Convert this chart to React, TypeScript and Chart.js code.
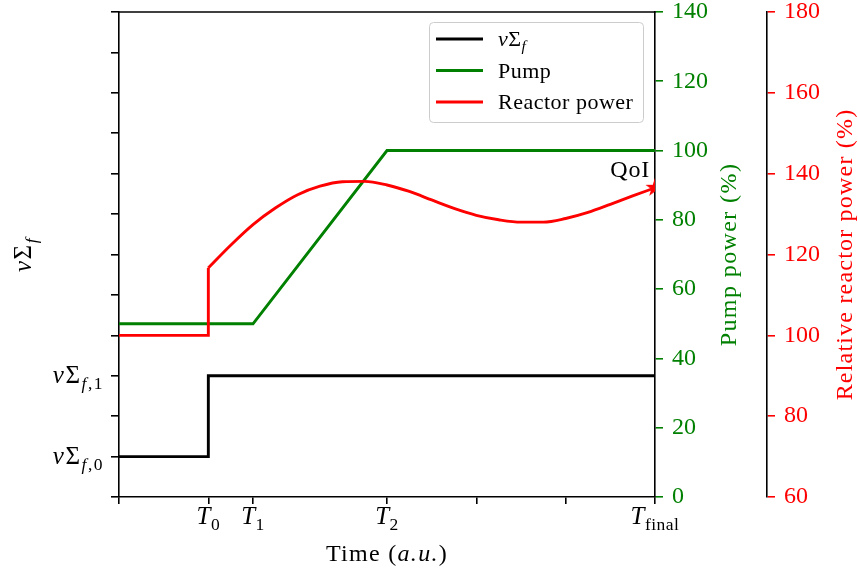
import React, { useEffect, useRef } from "react";
import { Chart, registerables } from "chart.js";

Chart.register(...registerables);

// ---- data -------------------------------------------------------------
// fission cross-section step (left axis, arbitrary units)
const timeSigma = [0, 2, 2, 12];
const sigmaLevels = [1, 1, 3, 3];

// pump power ramp (%)
const timePump = [0, 3, 6, 12];
const pumpPower = [50, 50, 100, 100];

// relative reactor power (%): flat start + jump at T0
const timeReactorStep = [0, 2, 2];
const reactorStep = [100, 100, 116.7];

// relative reactor power (%): smooth transient after T0
const timeReactor = [2, 2.5, 3, 3.5, 4, 4.5, 5, 5.5, 6, 6.5, 7, 7.5, 8, 8.5, 9, 9.5, 10, 10.5, 11, 11.5, 12];
const reactorPower = [
  116.7, 122.3, 127.4, 131.5, 134.8, 136.9, 138.0, 138.1, 137.2, 135.6, 133.5,
  131.4, 129.7, 128.6, 128.0, 128.0, 128.9, 130.4, 132.4, 134.5, 136.5,
];

// quantity of interest: reactor power at the final time
const qoiTime = [12];
const qoiValue = [136.5];

// axis ticks
const timeTicks = [0, 2, 3, 6, 8, 10, 12];
const namedTimes = [2, 3, 6, 12];
const namedTimeSubs = ["0", "1", "2", "final"];
const sigmaTickValues = [1, 3];
const sigmaTickSubs = ["0", "1"];

// ---- styling helpers ----------------------------------------------------
const SERIF = '"Liberation Serif", "DejaVu Serif", serif';
const GREEN = "#008000";
const RED = "#ff0000";
const BLACK = "#000000";
const LINE_W = 2.9;

type Run = { t: string; it?: boolean; sub?: boolean };

function runFont(r: Run, size: number) {
  const s = r.sub ? size * 0.7 : size;
  return `${r.it ? "italic " : ""}${s}px ${SERIF}`;
}

function drawRuns(
  ctx: CanvasRenderingContext2D,
  runs: Run[],
  x: number,
  y: number,
  size: number,
  align: "left" | "center" | "right",
  color: string,
  spacing = 0
) {
  const c = ctx as any;
  c.letterSpacing = `${spacing}px`;
  let w = 0;
  for (const r of runs) {
    ctx.font = runFont(r, size);
    w += ctx.measureText(r.t).width;
  }
  let cx = align === "left" ? x : align === "center" ? x - w / 2 : x - w;
  ctx.textAlign = "left";
  ctx.textBaseline = "alphabetic";
  ctx.fillStyle = color;
  for (const r of runs) {
    ctx.font = runFont(r, size);
    ctx.fillText(r.t, cx, r.sub ? y + size * 0.24 : y);
    cx += ctx.measureText(r.t).width;
  }
  c.letterSpacing = "0px";
}

function makeStar(r: number, color: string) {
  const c = document.createElement("canvas");
  const size = Math.ceil(r * 2 + 2);
  c.width = size;
  c.height = size;
  const g = c.getContext("2d")!;
  g.fillStyle = color;
  g.beginPath();
  for (let k = 0; k < 10; k++) {
    const rad = k % 2 === 0 ? r : r * 0.381966;
    const a = -Math.PI / 2 + (k * Math.PI) / 5;
    g.lineTo(size / 2 + rad * Math.cos(a), size / 2 + rad * Math.sin(a));
  }
  g.closePath();
  g.fill();
  return c;
}

const sigmaRuns = (sub?: string): Run[] => {
  const runs: Run[] = [{ t: "ν", it: true }, { t: "Σ" }, { t: "f", it: true, sub: true }];
  if (sub !== undefined) runs.push({ t: "," + sub, sub: true });
  return runs;
};

// texts that Chart.js cannot typeset (subscripts, rotated titles, legend)
const decorations = {
  id: "decorations",
  afterDraw(chart: any) {
    const { ctx, chartArea, scales } = chart;
    const { left, right, top, bottom } = chartArea;
    ctx.save();

    // top spine
    ctx.strokeStyle = BLACK;
    ctx.lineWidth = 1.6;
    ctx.beginPath();
    ctx.moveTo(left - 0.8, top);
    ctx.lineTo(right + 0.8, top);
    ctx.stroke();

    // time tick labels
    namedTimes.forEach((t, i) => {
      drawRuns(
        ctx,
        [{ t: "T", it: true }, { t: namedTimeSubs[i], sub: true }],
        scales.x.getPixelForValue(t),
        bottom + 27,
        25,
        "center",
        BLACK,
        0.5
      );
    });
    drawRuns(
      ctx,
      [{ t: "Time (" }, { t: "a.u.", it: true }, { t: ")" }],
      (left + right) / 2,
      bottom + 64,
      24,
      "center",
      BLACK,
      1.3
    );

    // cross-section tick labels
    sigmaTickValues.forEach((v, i) => {
      drawRuns(ctx, sigmaRuns(sigmaTickSubs[i]), left - 15, scales.yL.getPixelForValue(v) + 7, 25, "right", BLACK, 1.5);
    });

    const midY = (top + bottom) / 2;
    const rotated = (x: number, runs: Run[], color: string, size: number, spacing: number) => {
      ctx.save();
      ctx.translate(x, midY);
      ctx.rotate(-Math.PI / 2);
      drawRuns(ctx, runs, 0, 0, size, "center", color, spacing);
      ctx.restore();
    };
    rotated(31, sigmaRuns(), BLACK, 25, 1.5);
    rotated(736, [{ t: "Pump power (%)" }], GREEN, 24, 1.4);
    rotated(852, [{ t: "Relative reactor power (%)" }], RED, 24, 1.2);

    // QoI annotation
    const qx = scales.x.getPixelForValue(qoiTime[0]);
    const qy = scales.yR.getPixelForValue(qoiValue[0]);
    drawRuns(ctx, [{ t: "QoI" }], qx - 5, qy - 11, 24, "right", BLACK, 0.8);

    // legend
    const bw = 214;
    const bh = 100;
    const bx = right - 12 - bw;
    const by = top + 10;
    ctx.beginPath();
    ctx.roundRect(bx + 0.5, by + 0.5, bw, bh, 4);
    ctx.fillStyle = "rgba(255,255,255,0.8)";
    ctx.fill();
    ctx.strokeStyle = "#cccccc";
    ctx.lineWidth = 1;
    ctx.stroke();
    const entries: { runs: Run[]; color: string }[] = [
      { runs: sigmaRuns(), color: BLACK },
      { runs: [{ t: "Pump" }], color: GREEN },
      { runs: [{ t: "Reactor power" }], color: RED },
    ];
    entries.forEach((e, i) => {
      const ly = by + 17 + i * 31.5;
      ctx.strokeStyle = e.color;
      ctx.lineWidth = LINE_W;
      ctx.beginPath();
      ctx.moveTo(bx + 7, ly);
      ctx.lineTo(bx + 54, ly);
      ctx.stroke();
      drawRuns(ctx, e.runs, bx + 69, ly + 7, 22, "left", BLACK, 0.5);
    });

    ctx.restore();
  },
};

const fixWidth = (w: number) => (scale: any) => {
  scale.width = w;
  scale.paddingTop = 0;
  scale.paddingBottom = 0;
};

const tickGrid = (color: string, len: number) => ({
  drawOnChartArea: false,
  drawTicks: true,
  tickLength: len,
  tickColor: color,
  tickWidth: 1.6,
  lineWidth: 1.6,
  color,
});

const border = { display: true, color: BLACK, width: 1.6 };

export default function App() {
  const canvasRef = useRef<HTMLCanvasElement | null>(null);

  useEffect(() => {
    if (!canvasRef.current) return;
    const star = makeStar(10, RED);
    const pts = (xs: number[], ys: number[]) => xs.map((x, i) => ({ x, y: ys[i] }));

    const chart = new Chart(canvasRef.current, {
      type: "line",
      data: {
        datasets: [
          {
            label: "QoI",
            type: "scatter",
            data: pts(qoiTime, qoiValue),
            yAxisID: "yR",
            pointStyle: star as any,
            pointRadius: 10,
            backgroundColor: RED,
            borderColor: RED,
            clip: 0,
            order: 0,
          } as any,
          {
            label: "Reactor power",
            data: pts(timeReactor, reactorPower),
            yAxisID: "yR",
            borderColor: RED,
            borderWidth: LINE_W,
            pointRadius: 0,
            cubicInterpolationMode: "monotone",
            order: 1,
          },
          {
            label: "Reactor power (initial)",
            data: pts(timeReactorStep, reactorStep),
            yAxisID: "yR",
            borderColor: RED,
            borderWidth: LINE_W,
            pointRadius: 0,
            tension: 0,
            order: 1,
          },
          {
            label: "Pump",
            data: pts(timePump, pumpPower),
            yAxisID: "yG",
            borderColor: GREEN,
            borderWidth: LINE_W,
            pointRadius: 0,
            tension: 0,
            order: 2,
          },
          {
            label: "νΣf",
            data: pts(timeSigma, sigmaLevels),
            yAxisID: "yL",
            borderColor: BLACK,
            borderWidth: LINE_W,
            pointRadius: 0,
            tension: 0,
            order: 3,
          },
        ],
      },
      options: {
        animation: false,
        responsive: false,
        events: [],
        layout: { padding: { top: 12, left: 0, right: 0, bottom: 0 } },
        plugins: { legend: { display: false }, tooltip: { enabled: false } },
        scales: {
          x: {
            type: "linear",
            position: "bottom",
            min: 0,
            max: 12,
            afterBuildTicks: (scale: any) => {
              scale.ticks = timeTicks.map((value) => ({ value }));
            },
            afterFit: (scale: any) => {
              scale.height = 78;
              scale.paddingLeft = 0;
              scale.paddingRight = 0;
            },
            ticks: { callback: () => "", autoSkip: false },
            grid: tickGrid(BLACK, 7),
            border,
          },
          yL: {
            type: "linear",
            position: "left",
            min: 0,
            max: 12,
            ticks: { stepSize: 1, callback: () => "" },
            afterFit: fixWidth(119),
            grid: tickGrid(BLACK, 8),
            border,
          },
          yG: {
            type: "linear",
            position: "right",
            weight: 0,
            min: 0,
            max: 140,
            ticks: {
              stepSize: 20,
              color: GREEN,
              padding: 9,
              font: { family: SERIF, size: 24, lineHeight: 1 },
            },
            afterFit: fixWidth(112),
            grid: tickGrid(GREEN, 8),
            border,
          },
          yR: {
            type: "linear",
            position: "right",
            weight: 1,
            min: 60,
            max: 180,
            ticks: {
              stepSize: 20,
              color: RED,
              padding: 9,
              font: { family: SERIF, size: 24, lineHeight: 1 },
            },
            afterFit: fixWidth(91),
            grid: tickGrid(RED, 8),
            border,
          },
        } as any,
      },
      plugins: [decorations],
    });

    return () => chart.destroy();
  }, []);

  return (
    <div style={{ position: "absolute", left: 0, top: 0, width: 858, height: 575, background: "#fff" }}>
      <canvas ref={canvasRef} width={858} height={575} style={{ display: "block" }} />
    </div>
  );
}
